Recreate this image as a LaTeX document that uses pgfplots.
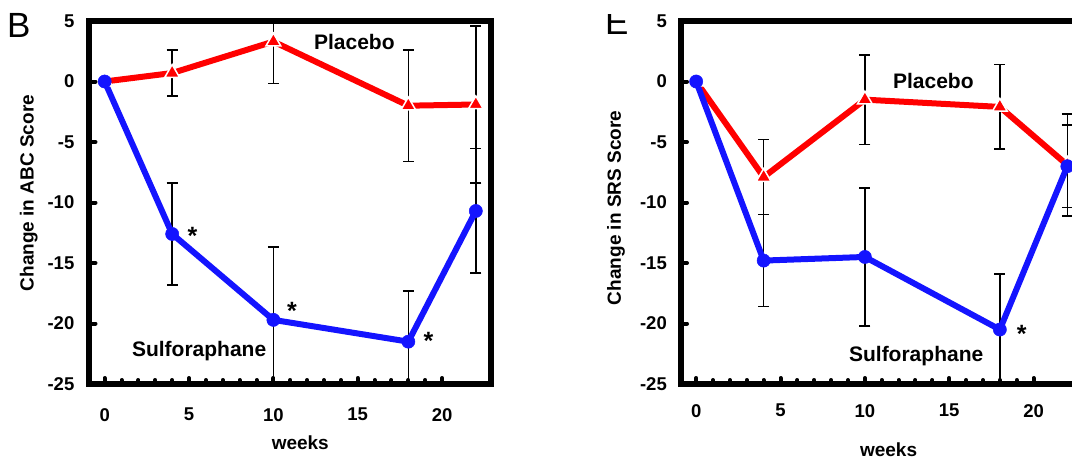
\documentclass[border=0pt]{standalone}
\usepackage{pgfplots}
\pgfplotsset{compat=1.18}
\usepackage{fontspec}
\setmainfont{Liberation Sans}

\definecolor{plred}{RGB}{255,0,0}
\definecolor{plblue}{RGB}{20,20,255}

\pgfplotsset{
  panel/.style={
    scale only axis, width=401.5pt, height=363pt, anchor=south west,
    xmin=-0.9, xmax=22.9, ymin=-25, ymax=5,
    xtick={0,5,10,15,20}, xticklabels={0,5,10,15,20},
    minor x tick num=4,
    ytick={-25,-20,-15,-10,-5,0,5}, yticklabels={-25,-20,-15,-10,-5,0,5},
    tick pos=left, tick align=inside,
    major tick length=6pt, minor tick length=4pt,
    tick style={black, line width=4pt, line cap=round},
    axis line style={black, line width=6pt},
    axis on top,
    ticklabel style={font=\bfseries\fontsize{18.5}{20}\selectfont, inner sep=0pt},
    xticklabel style={anchor=north},
    yticklabel style={anchor=east},
    label style={font=\bfseries\fontsize{19}{21}\selectfont},
  },
  ebar/.style={draw=none, mark=none, forget plot,
    error bars/.cd, y dir=both, y explicit,
    error bar style={black, line width=1.6pt},
    error mark options={black, rotate=90, mark size=5.5pt, line width=1.6pt}},
  placebo/.style={color=plred, line width=6pt, mark=triangle*, mark size=8.5pt,
    mark options={solid, fill=plred, draw=white, line width=1.5pt}},
  sulfo/.style={color=plblue, line width=6pt, mark=*, mark size=6.6pt,
    mark options={solid, line width=0.5pt}},
}
\tikzset{
  annot/.style={font=\bfseries\fontsize{21}{23}\selectfont},
  star/.style={font=\bfseries\fontsize{25}{27}\selectfont},
}

\begin{document}
\begin{tikzpicture}

% panel B: ABC score
\begin{axis}[panel, at={(89.5pt,75pt)},
  xticklabel style={yshift=-24pt},
  yticklabel style={xshift=-15pt},
  xlabel={weeks}, xlabel style={at={(axis description cs:0.525,0)}, anchor=center, yshift=-59pt},
  ylabel={Change in ABC Score}, ylabel style={at={(axis description cs:-0.151,0.526)}, anchor=center},
]
\addplot[ebar] coordinates {(4,0.7) +- (0,1.9) (10,3.3) +- (0,3.45) (18,-2.0) +- (0,4.6) (22,-1.9) +- (0,6.5)};
\addplot[ebar] coordinates {(4,-12.6) +- (0,4.2) (10,-19.7) +- (0,6.0) (18,-21.5) +- (0,4.2) (22,-10.7) +- (0,5.15)};
\addplot[placebo] coordinates {(0,0) (4,0.7) (10,3.3) (18,-2.0) (22,-1.9)};
\addplot[sulfo] coordinates {(0,0) (4,-12.6) (10,-19.7) (18,-21.5) (22,-10.7)};
\node[annot] at (axis cs:14.8,3.3) {Placebo};
\node[annot] at (axis cs:5.6,-22.3) {Sulforaphane};
\node[star] at (axis cs:5.2,-12.75) {*};
\node[star] at (axis cs:11.1,-18.95) {*};
\node[star] at (axis cs:19.2,-21.4) {*};
\end{axis}

% panel E: SRS score
\begin{axis}[panel, at={(681pt,75pt)},
  xticklabel style={yshift=-20pt},
  yticklabel style={xshift=-14pt},
  xlabel={weeks}, xlabel style={at={(axis description cs:0.517,0)}, anchor=center, yshift=-66pt},
  ylabel={Change in SRS Score}, ylabel style={at={(axis description cs:-0.162,0.485)}, anchor=center},
]
\addplot[ebar] coordinates {(4,-7.9) +- (0,3.1) (10,-1.5) +- (0,3.7) (18,-2.1) +- (0,3.5) (22,-6.9) +- (0,4.2)};
\addplot[ebar] coordinates {(4,-14.8) +- (0,3.8) (10,-14.5) +- (0,5.7) (18,-20.5) +- (0,4.6) (22,-7.0) +- (0,3.4)};
\addplot[placebo] coordinates {(0,0) (4,-7.9) (10,-1.5) (18,-2.1) (22,-6.9)};
\addplot[sulfo] coordinates {(0,0) (4,-14.8) (10,-14.5) (18,-20.5) (22,-7.0)};
\node[annot] at (axis cs:14.06,0.05) {Placebo};
\node[annot] at (axis cs:13.04,-22.7) {Sulforaphane};
\node[star] at (axis cs:19.3,-20.85) {*};
\end{axis}

% panel letters
\node[anchor=base west, inner sep=0pt, font=\fontsize{35}{40}\selectfont] at (7pt,421pt) {B};
\begin{scope}
\clip (590pt,0pt) rectangle (650pt,444pt);
\node[anchor=base west, inner sep=0pt, font=\fontsize{35}{40}\selectfont] at (605pt,424pt) {E};
\end{scope}

\pgfresetboundingbox
\path[use as bounding box] (0pt,0pt) rectangle (1072pt,459pt);
\end{tikzpicture}
\end{document}
